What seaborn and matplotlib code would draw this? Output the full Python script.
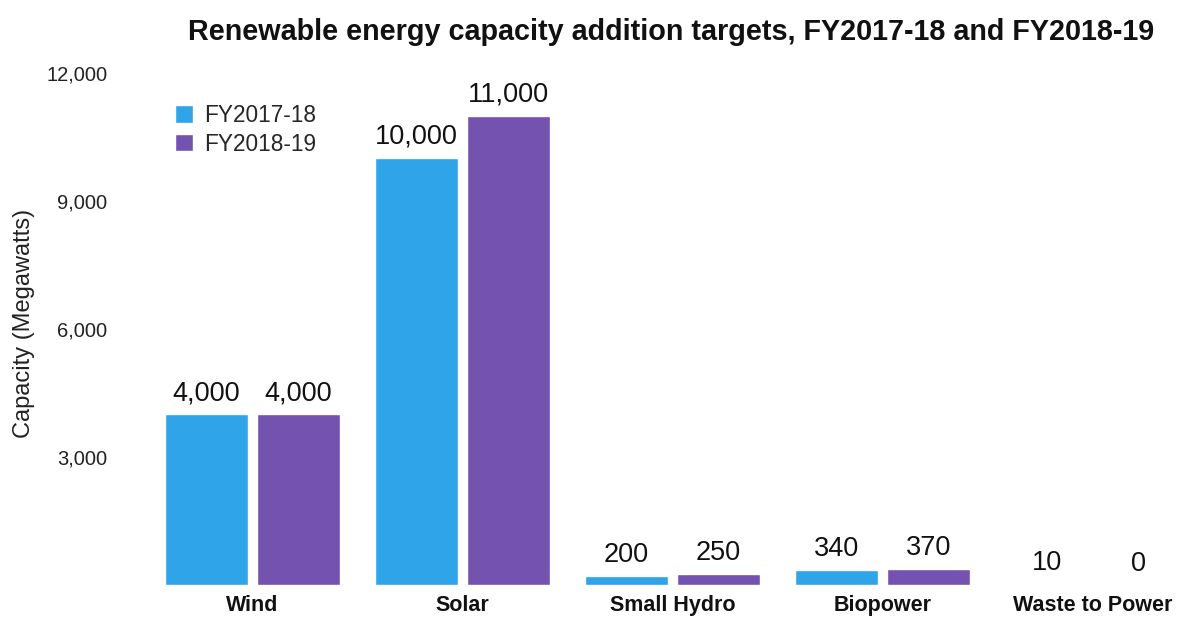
import matplotlib
matplotlib.use("Agg")
import matplotlib.pyplot as plt
import pandas as pd
import seaborn as sns

# Capacity addition targets (MW)
categories = ["Wind", "Solar", "Small Hydro", "Biopower", "Waste to Power"]
fy2017_18 = [4000, 10000, 200, 340, 10]
fy2018_19 = [4000, 11000, 250, 370, 0]
years = ["FY2017-18", "FY2018-19"]
yticks = [3000, 6000, 9000, 12000]

colors = ["#2FA4E8", "#7352B0"]

df = pd.DataFrame({
    "category": categories * 2,
    "value": fy2017_18 + fy2018_19,
    "year": [years[0]] * len(categories) + [years[1]] * len(categories),
})

sns.set_theme(style="white")
plt.rcParams["font.family"] = ["Liberation Sans", "DejaVu Sans"]

fig = plt.figure(figsize=(11.79, 6.17), dpi=100)
ax = fig.add_axes([147.5 / 1179, 32 / 617, 1029 / 1179, 545 / 617])

sns.barplot(data=df, x="category", y="value", hue="year", palette=colors,
            width=0.875, gap=0.1, saturation=1, ax=ax)

ax.set_xlim(-0.5, 4.4)
ax.set_ylim(0, 12000 * 545 / 512)

for cont in ax.containers:
    ax.bar_label(cont, fmt="{:,.0f}", padding=6, fontsize=19.5, color="#111111")

ax.set_yticks(yticks)
ax.set_yticklabels([f"{v:,}" for v in yticks], fontsize=14.5, color="#222222")
ax.tick_params(axis="y", length=0, pad=29)
ax.tick_params(axis="x", length=0, pad=7.5)
ax.set_xticks(range(len(categories)))
ax.set_xticklabels(categories, fontsize=15.5, fontweight="bold", color="#111111")
ax.set_xlabel("")
ax.set_ylabel("Capacity (Megawatts)", fontsize=17, color="#222222", labelpad=0)
ax.yaxis.set_label_coords(-112 / 1029, (585 - 323) / 545)

for s in ax.spines.values():
    s.set_visible(False)

ax.legend(loc="upper left", bbox_to_anchor=(12 / 1029, 0.93 - 10 / 545), frameon=False,
          fontsize=16.3, handlelength=0.8, handleheight=0.8, handletextpad=0.45,
          labelspacing=0.25, borderaxespad=0.3)

fig.suptitle("Renewable energy capacity addition targets, FY2017-18 and FY2018-19",
             x=671 / 1179, y=1 - 18 / 617, va="top", fontsize=20.7,
             fontweight="bold", color="#111111")

fig.savefig("out.png", dpi=100)
